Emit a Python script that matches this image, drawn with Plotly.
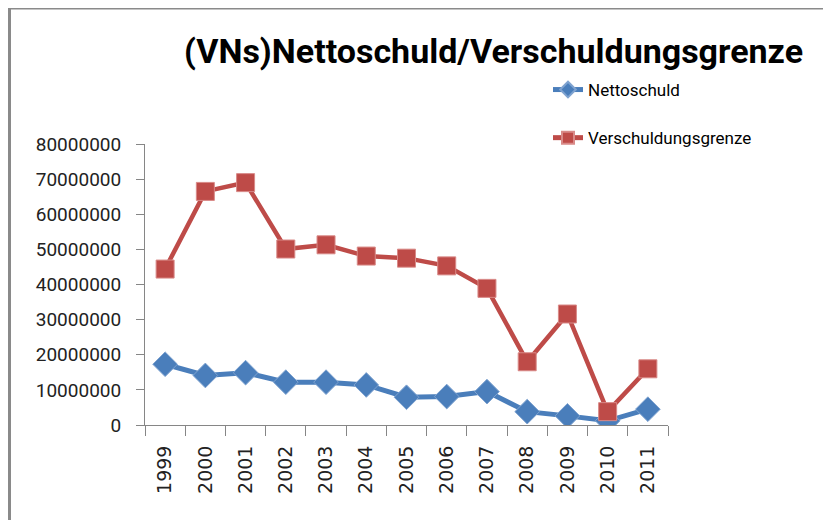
import plotly.graph_objects as go

years = ["1999", "2000", "2001", "2002", "2003", "2004", "2005", "2006",
         "2007", "2008", "2009", "2010", "2011"]
nettoschuld = [17300000, 14100000, 14900000, 12200000, 12200000, 11400000,
               7900000, 8100000, 9500000, 3800000, 2600000, 1200000, 4500000]
verschuldungsgrenze = [44400000, 66500000, 69000000, 50100000, 51300000,
                       48100000, 47500000, 45300000, 38900000, 18000000,
                       31600000, 3800000, 16000000]
y_ticks = [0, 10000000, 20000000, 30000000, 40000000, 50000000,
           60000000, 70000000, 80000000]

# page body has an 8px margin, so work in shifted figure coordinates
OFF = 8
W, H = 831, 520
L, R, T, B = 145 - OFF, 668 - OFF, 144 - OFF, 425 - OFF


def px_x(p):
    return (p - OFF - L) / (R - L)


def px_y(p):
    return (B - (p - OFF)) / (B - T)


fig = go.Figure()
fig.add_trace(go.Scatter(
    x=years, y=nettoschuld, name="Nettoschuld", mode="lines+markers",
    line=dict(color="#4A7EBB", width=5),
    marker=dict(symbol="diamond", size=19, color="#4A7EBB",
                line=dict(color="#7FA3D0", width=1)),
    legendgroup="a",
))
fig.add_trace(go.Scatter(
    x=years, y=verschuldungsgrenze, name="Verschuldungsgrenze",
    mode="lines+markers",
    line=dict(color="#BE4B48", width=4.5),
    marker=dict(symbol="square", size=18, color="#BE4B48",
                line=dict(color="#D98A88", width=1)),
    legendgroup="b",
))

fig.update_layout(
    width=W, height=H,
    margin=dict(l=L, r=W - R, t=T, b=H - B, pad=0),
    paper_bgcolor="white", plot_bgcolor="white",
    title=dict(text="(VNs)Nettoschuld/Verschuldungsgrenze",
               font=dict(family="Roboto", size=34, color="black", weight="bold"),
               x=(493.5 - OFF) / W, xanchor="center", xref="container",
               y=1 - (51 - OFF) / H, yanchor="middle", yref="container"),
    legend=dict(x=px_x(548), y=px_y(72), xanchor="left", yanchor="top",
                font=dict(family="Roboto", size=17, color="black"),
                bgcolor="rgba(0,0,0,0)", tracegroupgap=23,
                traceorder="grouped", itemsizing="constant"),
    showlegend=True,
    xaxis=dict(type="category", showline=True, linecolor="#868686",
               linewidth=1, ticks="outside", tickson="boundaries",
               ticklen=10, tickcolor="#868686", tickangle=-90,
               tickfont=dict(family="DejaVu Sans", size=19, color="#222"),
               showgrid=False, zeroline=False, range=[-0.5, 12.5],
               ticklabelstandoff=12),
    yaxis=dict(range=[0, 80000000], tickvals=y_ticks,
               ticktext=[str(v) for v in y_ticks],
               showline=True, linecolor="#868686", linewidth=1,
               ticks="outside", ticklen=8, tickcolor="#868686",
               tickfont=dict(family="Roboto", size=19, color="#222"),
               showgrid=False, zeroline=False, ticklabelstandoff=11),
    shapes=[dict(type="rect", xref="paper", yref="paper",
                 x0=px_x(9.5), x1=px_x(825), y0=px_y(540), y1=px_y(8),
                 line=dict(color="#8A8A8A", width=3), layer="below")],
)

fig.write_html("out.html")
